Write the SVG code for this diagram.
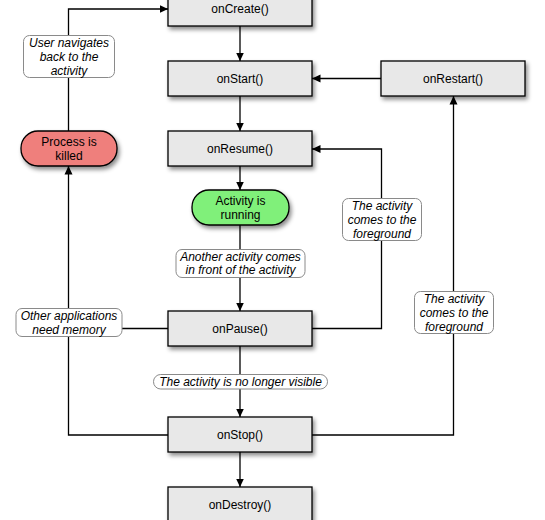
<svg xmlns="http://www.w3.org/2000/svg" width="545" height="520" viewBox="0 0 545 520">
<style>
.box{fill:#e8e8e8;stroke:#000;stroke-width:1.3;filter:url(#sh)}
.red{fill:#ef7f7b;stroke:#000;stroke-width:1.3;filter:url(#sh)}
.green{fill:#80f07a;stroke:#000;stroke-width:1.3;filter:url(#sh)}
.t{font-family:"Liberation Sans",Arial,sans-serif;font-size:12px;fill:#000;text-anchor:middle}
.lab{fill:#fff;stroke:#8a8a8a;stroke-width:1}
.it{font-family:"Liberation Sans",Arial,sans-serif;font-size:12px;font-style:italic;fill:#000;text-anchor:middle}
.c{fill:none;stroke:#000;stroke-width:1.3}
</style>
<defs>
<filter id="sh" x="-20%" y="-30%" width="140%" height="170%">
<feDropShadow dx="2" dy="3" stdDeviation="2" flood-color="#000" flood-opacity="0.45"/>
</filter>
<marker id="ah" markerWidth="9" markerHeight="9" refX="8.5" refY="4.5" orient="auto" markerUnits="userSpaceOnUse">
<path d="M0,0.5 L8.5,4.5 L0,8.5 Z" fill="#000"/>
</marker>
</defs>
<rect width="545" height="520" fill="#fff"/>
<g id="connectors">
<line class="c" x1="240" y1="26" x2="240" y2="61" marker-end="url(#ah)"/>
<line class="c" x1="240" y1="96" x2="240" y2="131" marker-end="url(#ah)"/>
<line class="c" x1="240" y1="166" x2="240" y2="190" marker-end="url(#ah)"/>
<line class="c" x1="240" y1="225" x2="240" y2="311" marker-end="url(#ah)"/>
<line class="c" x1="240" y1="346" x2="240" y2="417" marker-end="url(#ah)"/>
<line class="c" x1="240" y1="452" x2="240" y2="487" marker-end="url(#ah)"/>
<line class="c" x1="381" y1="78.5" x2="312" y2="78.5" marker-end="url(#ah)"/>
<polyline class="c" points="312,328.5 381.5,328.5 381.5,149 312,149" marker-end="url(#ah)"/>
<polyline class="c" points="312,435 453.5,435 453.5,96" marker-end="url(#ah)"/>
<polyline class="c" points="168,435 68.5,435 68.5,166" marker-end="url(#ah)"/>
<line class="c" x1="168" y1="328.5" x2="68.5" y2="328.5"/>
<polyline class="c" points="68.5,131 68.5,9 168,9" marker-end="url(#ah)"/>
<g id="lbl-user">
<rect class="lab" x="23.5" y="35.5" width="91" height="42" rx="6"/>
<text class="it" x="69" y="47">User navigates</text>
<text class="it" x="69" y="61">back to the</text>
<text class="it" x="69" y="75">activity</text>
</g>
<g id="lbl-another">
<rect class="lab" x="176" y="249.5" width="129" height="28" rx="6"/>
<text class="it" x="240.5" y="260.5">Another activity comes</text>
<text class="it" x="240.5" y="274">in front of the activity</text>
</g>
<g id="lbl-other">
<rect class="lab" x="16" y="308.5" width="106" height="28" rx="6"/>
<text class="it" x="69" y="320">Other applications</text>
<text class="it" x="69" y="334">need memory</text>
</g>
<g id="lbl-fg1">
<rect class="lab" x="342.5" y="198.5" width="79" height="42" rx="6"/>
<text class="it" x="382" y="210">The activity</text>
<text class="it" x="382" y="224">comes to the</text>
<text class="it" x="382" y="238">foreground</text>
</g>
<g id="lbl-fg2">
<rect class="lab" x="414.5" y="291.5" width="79" height="42" rx="6"/>
<text class="it" x="454" y="303">The activity</text>
<text class="it" x="454" y="317">comes to the</text>
<text class="it" x="454" y="331">foreground</text>
</g>
<g id="lbl-novisible">
<rect class="lab" x="153.5" y="374.5" width="174" height="14.5" rx="7.2"/>
<text class="it" x="240.5" y="386">The activity is no longer visible</text>
</g>
</g>
<g id="onCreate"><rect class="box" x="168" y="-9" width="144" height="35"/><text class="t" x="240" y="13">onCreate()</text></g>
<g id="onStart"><rect class="box" x="168" y="61" width="144" height="35"/><text class="t" x="240" y="83">onStart()</text></g>
<g id="onRestart"><rect class="box" x="381" y="61" width="144" height="35"/><text class="t" x="453" y="83">onRestart()</text></g>
<g id="onResume"><rect class="box" x="168" y="131" width="144" height="35"/><text class="t" x="240" y="153">onResume()</text></g>
<g id="processKilled"><rect class="red" x="21" y="131" width="96" height="35" rx="17"/><text class="t" x="69" y="146">Process is</text><text class="t" x="69" y="160">killed</text></g>
<g id="activityRunning"><rect class="green" x="192" y="190" width="97" height="35" rx="17"/><text class="t" x="240.5" y="205">Activity is</text><text class="t" x="240.5" y="219">running</text></g>
<g id="onPause"><rect class="box" x="168" y="311" width="144" height="35"/><text class="t" x="240" y="333">onPause()</text></g>
<g id="onStop"><rect class="box" x="168" y="417" width="144" height="35"/><text class="t" x="240" y="439">onStop()</text></g>
<g id="onDestroy"><rect class="box" x="168" y="487" width="144" height="35"/><text class="t" x="240" y="509">onDestroy()</text></g>
</svg>
